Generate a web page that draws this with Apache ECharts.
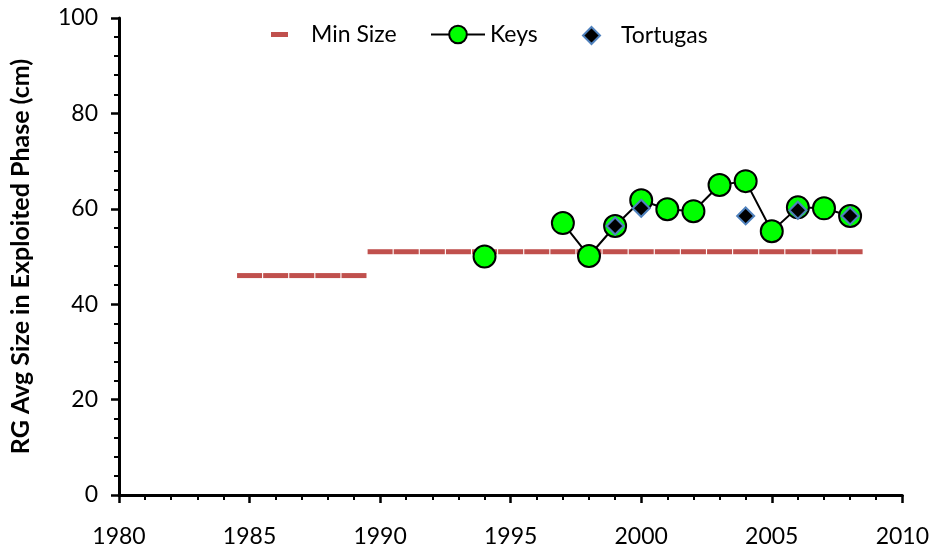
<!DOCTYPE html>
<html>
<head>
<meta charset="utf-8">
<script src="https://cdn.jsdelivr.net/npm/echarts@6/dist/echarts.min.js"></script>
<style>
  html, body { margin: 0; padding: 0; background: #fff; }
  #chart { width: 932px; height: 552px; }
</style>
</head>
<body>
<div id="chart"></div>
<script>
// minimum legal size by year
const minYears = [1985, 1986, 1987, 1988, 1989, 1990, 1991, 1992, 1993, 1994, 1995, 1996,
  1997, 1998, 1999, 2000, 2001, 2002, 2003, 2004, 2005, 2006, 2007, 2008];
const minSize = [46, 46, 46, 46, 46, 51, 51, 51, 51, 51, 51, 51,
  51, 51, 51, 51, 51, 51, 51, 51, 51, 51, 51, 51];

// Keys (null = no sample, breaks the line)
const keysYears = [1994, 1995, 1996, 1997, 1998, 1999, 2000, 2001, 2002, 2003, 2004, 2005, 2006, 2007, 2008];
const keysSize = [50, null, null, 57, 50.1, 56.4, 61.8, 59.9, 59.5, 65, 65.8, 55.3, 60.3, 60.1, 58.5];

// Tortugas
const tortYears = [1999, 2000, 2004, 2006, 2008];
const tortSize = [56.4, 60.1, 58.5, 59.7, 58.5];

const FONT = "Lato";

const chart = echarts.init(document.getElementById("chart"));

chart.setOption({
  animation: false,
  grid: { left: 118, right: 28, top: 18, bottom: 57 },
  legend: [
    {
      data: ["Min Size"],
      left: 266, top: 18,
      itemWidth: 17, itemHeight: 5,
      textStyle: { fontFamily: FONT, fontSize: 23, color: "#000", padding: [0, 0, 0, 18] }
    },
    {
      data: ["Keys"],
      left: 425, top: 18,
      itemWidth: 54, itemHeight: 22,
      textStyle: { fontFamily: FONT, fontSize: 23, color: "#000" }
    },
    {
      data: ["Tortugas"],
      left: 577, top: 19,
      itemWidth: 17, itemHeight: 17,
      textStyle: { fontFamily: FONT, fontSize: 23, color: "#000", padding: [0, 0, 0, 16] }
    }
  ],
  xAxis: {
    type: "value",
    min: 1980, max: 2010, interval: 5,
    axisLine: { lineStyle: { color: "#000", width: 3 } },
    axisTick: { length: 8, lineStyle: { color: "#000", width: 2.5 } },
    minorTick: { show: true, splitNumber: 5, length: 5, lineStyle: { color: "#000", width: 2 } },
    splitLine: { show: false },
    axisLabel: { fontFamily: FONT, fontSize: 23, color: "#000", margin: 30, formatter: v => String(v) }
  },
  yAxis: {
    type: "value",
    min: 0, max: 100, interval: 20,
    name: "RG Avg Size in Exploited Phase (cm)",
    nameLocation: "middle",
    nameGap: 86,
    nameTextStyle: { fontFamily: FONT, fontSize: 25, fontWeight: "bold", color: "#000" },
    axisLine: { show: true, lineStyle: { color: "#000", width: 3 } },
    axisTick: { show: true, length: 8, lineStyle: { color: "#000", width: 2.5 } },
    minorTick: { show: true, splitNumber: 5, length: 5, lineStyle: { color: "#000", width: 2 } },
    splitLine: { show: false },
    axisLabel: { fontFamily: FONT, fontSize: 23, color: "#000", margin: 21 }
  },
  series: [
    {
      name: "Min Size",
      type: "scatter",
      symbol: "rect",
      symbolSize: [25, 5],
      itemStyle: { color: "#C0504D", opacity: 1 },
      z: 1,
      data: minYears.map((y, i) => [y, minSize[i]])
    },
    {
      name: "Keys",
      type: "line",
      symbol: "circle",
      symbolSize: 22,
      showAllSymbol: true,
      connectNulls: false,
      lineStyle: { color: "#000", width: 2 },
      itemStyle: { color: "#00FF00", borderColor: "#000", borderWidth: 2, opacity: 1 },
      z: 2,
      data: keysYears.map((y, i) => (keysSize[i] == null ? [y, "-"] : [y, keysSize[i]]))
    },
    {
      name: "Tortugas",
      type: "scatter",
      symbol: "diamond",
      symbolSize: 17,
      itemStyle: { color: "#000", borderColor: "#4F81BD", borderWidth: 2, opacity: 1 },
      z: 3,
      data: tortYears.map((y, i) => [y, tortSize[i]])
    }
  ]
});
</script>
</body>
</html>
